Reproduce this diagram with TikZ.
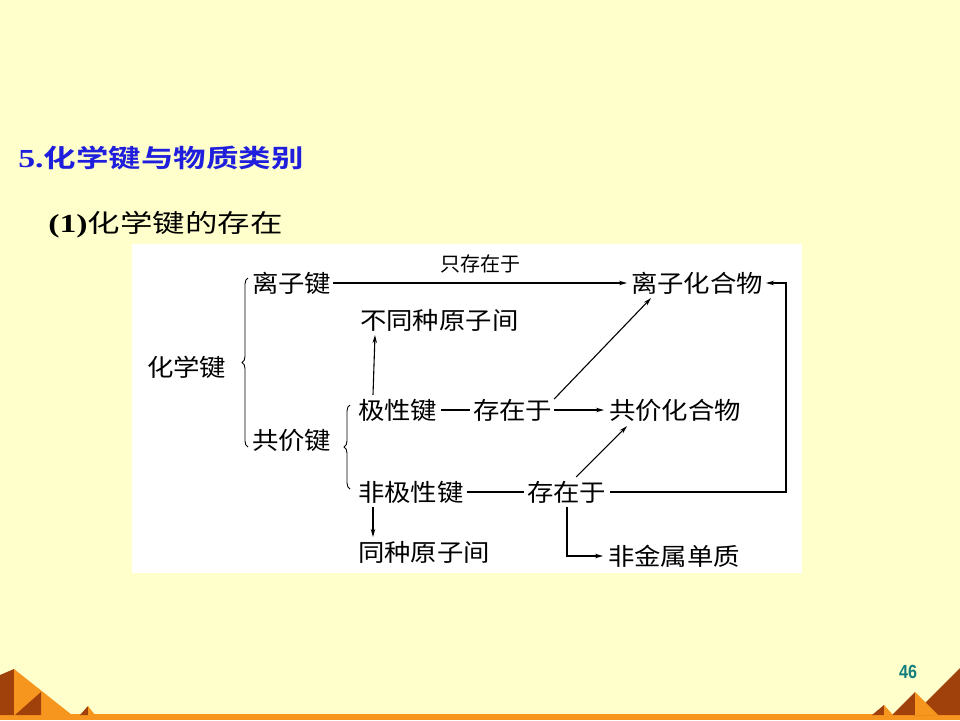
\documentclass[tikz,border=0pt]{standalone}
\usepackage{fontspec}
\usetikzlibrary{arrows.meta,decorations.pathreplacing,calc}
\newfontfamily\cjk{Noto Sans CJK SC}[BoldFont={Noto Sans CJK SC Bold}]
\newfontfamily\tnr{Liberation Serif}
\newfontfamily\lsans{Liberation Sans}
\definecolor{bgc}{RGB}{255,255,204}
\definecolor{titleblue}{RGB}{30,30,220}
\definecolor{darkbr}{RGB}{160,64,10}
\definecolor{orng}{RGB}{247,150,30}
\definecolor{teal46}{RGB}{20,125,125}
\begin{document}
\begin{tikzpicture}[x=1pt,y=-1pt,
  txt/.style={anchor=west,inner sep=0pt,outer sep=0pt,xscale=1.1,font=\cjk\fontsize{24}{24}\selectfont},
  lbl/.style={inner sep=0pt,font=\cjk\fontsize{20}{20}\selectfont},
  arr/.style={line width=1.1pt,-{Stealth[length=8pt,width=4.5pt]}},
  ln/.style={line width=1.1pt},
  brc/.style={line width=0.9pt,decorate,decoration={brace,amplitude=6pt}}
]
\useasboundingbox (0,0) rectangle (960,720);
\fill[bgc] (0,0) rectangle (960,720);
\fill[white] (132,244) rectangle (802,573);
% bottom decoration
\fill[orng] (0,714) rectangle (960,720);
\fill[darkbr] (0,675) -- (14,669) -- (14,715) -- (0,715) -- cycle;
\fill[orng] (14,669) -- (72,715) -- (14,715) -- cycle;
\fill[darkbr] (15,715) -- (41,692) -- (41,715) -- cycle;
\fill[darkbr] (80,715) -- (88,706) -- (88,715) -- cycle;
\fill[orng] (88,706) -- (95,715) -- (88,715) -- cycle;
\fill[darkbr] (960,668) -- (960,715) -- (913,715) -- cycle;
\fill[darkbr] (915,692) -- (892,715) -- (915,715) -- cycle;
\fill[orng] (915,692) -- (938,715) -- (915,715) -- cycle;
\fill[darkbr] (884,705) -- (872,715) -- (884,715) -- cycle;
\fill[orng] (884,705) -- (893,715) -- (884,715) -- cycle;
\node[font=\lsans\bfseries\fontsize{19}{19}\selectfont,text=teal46,xscale=0.85,inner sep=0pt] (pg) at (908,672) {46};
% titles
\node[anchor=west,inner sep=0pt,xscale=1.3,text=titleblue] (title) at (18,158)
  {{\tnr\bfseries\fontsize{26}{26}\selectfont 5.}{\cjk\bfseries\fontsize{25}{25}\selectfont 化学键与物质类别}};
\node[anchor=west,inner sep=0pt,xscale=1.3] (sub) at (48,225)
  {{\tnr\bfseries\fontsize{26}{26}\selectfont (1)}{\cjk\fontsize{25}{25}\selectfont 化学键的存在}};
% diagram nodes
\node[txt] (hx)  at (147,367) {化学键};
\node[txt] (lz)  at (252,283) {离子键};
\node[txt] (gj)  at (252,440) {共价键};
\node[txt] (lzh) at (631,283) {离子化合物};
\node[txt] (btz) at (360,320) {不同种原子间};
\node[txt] (jx)  at (358,410) {极性键};
\node[txt] (cz1) at (473,410) {存在于};
\node[txt] (gjh) at (609,410) {共价化合物};
\node[txt] (fjx) at (358,492) {非极性键};
\node[txt] (cz2) at (527,492) {存在于};
\node[txt] (tz)  at (358,552) {同种原子间};
\node[txt] (fjs) at (608,556) {非金属单质};
\coordinate (rc) at (786,283);
% braces
\draw[brc] (248,447) -- (248,278);
\draw[brc] (350,489) -- (350,405);
% connectors
\draw[arr] ([xshift=2pt]lz.east) -- ([xshift=-4pt]lzh.west)
  node[lbl,midway,above=9pt] (oz) {只存在于};
\draw[arr] ([xshift=15pt,yshift=4pt]jx.north west) -- ([xshift=15pt,yshift=-4pt]btz.south west);
\draw[ln] ([xshift=4pt]jx.east) -- ([xshift=-3pt]cz1.west);
\draw[arr] ([xshift=2pt]cz1.east) -- ([xshift=-5pt]gjh.west);
\draw[arr] ([xshift=2pt,yshift=0pt]cz1.north east) -- ([xshift=20pt,yshift=-4pt]lzh.south west);
\draw[ln] ([xshift=3pt]fjx.east) -- ([xshift=-3pt]cz2.west);
\draw[arr] ([xshift=4pt]cz2.east) -- (cz2.east -| rc) -- (rc) -- ([xshift=3pt]lzh.east);
\draw[arr] ([xshift=-30pt,yshift=4pt]cz2.north east) -- ([xshift=18pt,yshift=-5pt]gjh.south west);
\draw[arr] ([xshift=15pt,yshift=-4pt]fjx.south west) -- ([xshift=15pt,yshift=4pt]tz.north west);
\draw[ln,-{Stealth[length=8pt,width=4.5pt]}] ([xshift=40pt,yshift=-4pt]cz2.south west) |- ([xshift=-5pt]fjs.west);
\end{tikzpicture}
\end{document}
